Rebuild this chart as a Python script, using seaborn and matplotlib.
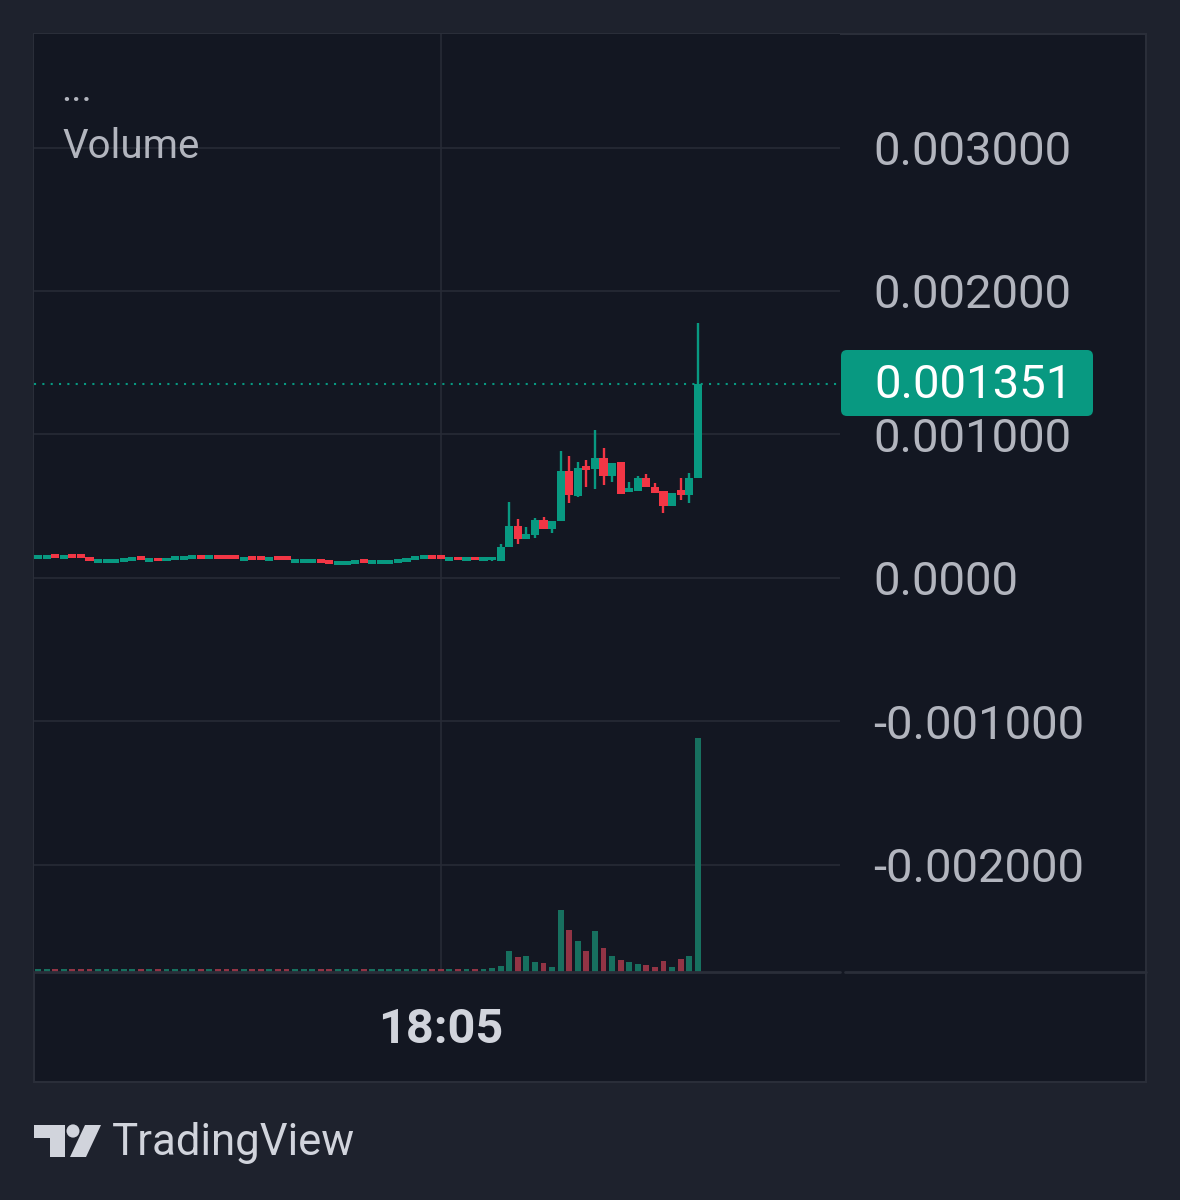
import numpy as np
import pandas as pd
import matplotlib
matplotlib.use("Agg")
import matplotlib.pyplot as plt
import seaborn as sns
from matplotlib.patches import FancyBboxPatch, Rectangle, Polygon, Circle
from matplotlib.lines import Line2D
from matplotlib import transforms

# OHLC in millionths of a unit, one candle per slot (78 candles)
opens = [135, 135, 139, 135, 139, 139, 137, 107, 107, 107, 109, 116, 127, 113, 117, 115, 123, 125,
         130, 134, 130, 134, 134, 134, 121, 125, 125, 121, 125, 125, 107, 107, 107, 109, 104, 91,
         93, 100, 104, 100, 100, 100, 102, 112, 125, 130, 134, 134, 120, 124, 120, 124, 120,
         122, 121, 218, 362, 272, 300, 404, 344, 397, 748, 571, 772, 758, 836, 710, 810, 600, 608,
         695, 636, 608, 502, 613, 578, 695]
highs = [137, 137, 139, 137, 139, 139, 137, 109, 109, 109, 116, 125, 127, 115, 117, 125, 125, 132,
         132, 134, 132, 134, 134, 134, 123, 125, 125, 123, 125, 125, 109, 109, 109, 109, 104, 93,
         102, 102, 104, 102, 102, 102, 112, 125, 132, 132, 134, 134, 122, 124, 122, 124, 122,
         125, 237, 532, 410, 358, 420, 423, 397, 887, 850, 810, 822, 1030, 906, 803, 810, 670, 713,
         725, 660, 608, 590, 695, 730, 1777]
lows = [135, 135, 137, 135, 137, 137, 120, 107, 107, 107, 109, 116, 125, 113, 115, 115, 123, 125,
        130, 132, 130, 132, 132, 132, 121, 123, 123, 121, 123, 123, 107, 107, 107, 104, 98, 91,
        93, 100, 102, 100, 100, 100, 102, 112, 125, 130, 132, 132, 120, 122, 120, 122, 120,
        120, 120, 218, 237, 270, 279, 340, 316, 397, 525, 564, 634, 622, 648, 671, 585, 600, 608,
        636, 594, 450, 502, 544, 523, 695]
closes = [137, 137, 137, 137, 137, 137, 120, 109, 109, 109, 116, 125, 125, 115, 115, 125, 125, 132,
          132, 132, 132, 132, 132, 132, 123, 123, 123, 123, 123, 123, 109, 109, 109, 104, 98, 93,
          102, 102, 102, 102, 102, 102, 112, 125, 132, 132, 132, 132, 122, 122, 122, 122, 122,
          125, 218, 362, 272, 307, 404, 344, 397, 748, 578, 767, 753, 836, 710, 803, 585, 613, 695,
          636, 594, 502, 590, 578, 695, 1351]
volume = [2.8, 2.8, 2.9, 2.8, 2.9, 2.8, 3.0, 2.8, 2.8, 2.8, 2.9, 2.8, 2.8, 2.8, 2.9, 2.8, 2.8, 2.8,
          2.8, 2.9, 2.8, 2.8, 2.9, 2.8, 2.8, 2.8, 2.9, 2.8, 2.8, 2.8, 2.8, 2.9, 2.8, 2.8, 2.8, 2.8,
          2.8, 2.8, 2.9, 2.8, 2.8, 2.8, 2.8, 2.8, 2.9, 2.8, 2.8, 2.8, 2.8, 3.0, 2.8, 2.8, 3.0,
          3.7, 5.7, 21, 15, 15.7, 9.7, 9, 5, 61.7, 41.7, 31, 21, 41, 24, 15.7, 11.7, 9.7, 8.4,
          6.7, 5, 10.7, 5, 12.7, 15.7, 233.7]

price_ticks = [-0.002, -0.001, 0.0, 0.001, 0.002, 0.003]
price_labels = ["-0.002000", "-0.001000", "0.0000", "0.001000", "0.002000", "0.003000"]
time_tick = 47
time_label = "18:05"
last_label = "0.001351"

# colours
OUTER_BG = "#1e222d"
PANE_BG = "#131722"
GRID = "#272b36"
UP = "#089981"
DOWN = "#f23645"
VOL_UP = "#17705f"
VOL_DOWN = "#923445"
TEXT = "#b2b5be"
TEXT_LIGHT = "#d1d4dc"

W, H = 1180, 1200


def fx(px):
    return px / W


def fy(py):
    return 1 - py / H


sns.set_theme(style="dark", rc={"axes.facecolor": PANE_BG, "figure.facecolor": OUTER_BG})
plt.rcParams["font.family"] = ["Roboto", "DejaVu Sans"]

df = pd.DataFrame({"open": opens, "high": highs, "low": lows, "close": closes, "volume": volume})
df[["open", "high", "low", "close"]] *= 1e-6
df["idx"] = np.arange(len(df))
df["dir"] = np.where(df["close"] >= df["open"], "up", "down")

fig = plt.figure(figsize=(W / 100, H / 100), dpi=100)
fig.add_artist(Rectangle((fx(34), fy(1082)), fx(1112), 1048 / H, transform=fig.transFigure,
                         facecolor=PANE_BG, edgecolor="#2a2e39", lw=1.5, zorder=-5))

ax = fig.add_axes([fx(34), fy(972), fx(806), 938 / H])
ax_v = ax.twinx()

# volume overlay
sns.barplot(data=df, x="idx", y="volume", hue="dir", palette={"up": VOL_UP, "down": VOL_DOWN},
            native_scale=True, dodge=False, width=0.68, saturation=1, errorbar=None,
            legend=False, linewidth=0, ax=ax_v)
ax_v.set_ylim(0, max(volume) * 4.0)
ax_v.set_yticks([])
ax_v.set_ylabel("")
ax_v.set_xlabel("")
for s in ax_v.spines.values():
    s.set_visible(False)

# candles
cols = np.where(df["dir"] == "up", UP, DOWN)
ax.vlines(df["idx"], df["low"], df["high"], colors=cols, lw=1.7, zorder=3)
body_bottom = np.minimum(df["open"], df["close"])
body_h = np.maximum((df["close"] - df["open"]).abs(), 0.000027)
ax.bar(df["idx"], body_h, bottom=body_bottom, width=0.95, color=cols, linewidth=0, zorder=4)

ax.axhline(df["close"].iloc[-1], color=UP, ls=(0, (1, 3)), lw=1.5, zorder=2)

ax.set_ylim(-0.002746, 0.003791)
ax.set_xlim(-0.47, 93.6)
ax.set_yticks(price_ticks)
ax.set_yticklabels(price_labels)
ax.yaxis.tick_right()
ax.tick_params(axis="y", length=0, pad=24, labelsize=34, labelcolor=TEXT)
ax.set_xticks([time_tick])
ax.set_xticklabels([""])
ax.tick_params(axis="x", length=0)
ax.grid(True, color=GRID, lw=1.2)
ax.set_axisbelow(True)
for s in ax.spines.values():
    s.set_visible(False)

# time label
tr = transforms.blended_transform_factory(ax.transData, fig.transFigure)
ax.text(time_tick, fy(1030), time_label, transform=tr, ha="center", va="center",
        fontsize=35, fontweight="bold", color=TEXT_LIGHT, clip_on=False)

# separator under the chart pane
fig.add_artist(Line2D([fx(34), fx(840)], [fy(972), fy(972)], color="#2a2e39", lw=2))
fig.add_artist(Line2D([fx(845), fx(1146)], [fy(972), fy(972)], color="#2a2e39", lw=2))

# last price badge
fig.add_artist(FancyBboxPatch((fx(841), fy(416)), fx(252), 66 / H,
                              boxstyle="round,pad=0,rounding_size=0.005",
                              transform=fig.transFigure, facecolor=UP, edgecolor="none"))
fig.text(fx(874), fy(385), last_label, ha="left", va="center", fontsize=34, color="white")

# legend text
fig.text(fx(61), fy(101), "...", ha="left", va="baseline", fontsize=28, color=TEXT)
fig.text(fx(62), fy(147), "Volume", ha="left", va="center", fontsize=29, color=TEXT)

# TradingView mark
fig.add_artist(Polygon([(fx(34), fy(1125)), (fx(65), fy(1125)), (fx(65), fy(1157)),
                        (fx(50), fy(1157)), (fx(50), fy(1138)), (fx(34), fy(1138))],
                       closed=True, transform=fig.transFigure, facecolor=TEXT_LIGHT, edgecolor="none"))
fig.add_artist(Circle((fx(73), fy(1131)), 6.5 / W, transform=fig.transFigure,
                      facecolor=TEXT_LIGHT, edgecolor="none"))
fig.add_artist(Polygon([(fx(85), fy(1125)), (fx(101), fy(1125)), (fx(86), fy(1157)), (fx(70), fy(1157))],
                       closed=True, transform=fig.transFigure, facecolor=TEXT_LIGHT, edgecolor="none"))
fig.text(fx(112), fy(1143), "TradingView", ha="left", va="center", fontsize=31.5, color=TEXT_LIGHT)

fig.savefig("out.png", dpi=100, facecolor=OUTER_BG)
